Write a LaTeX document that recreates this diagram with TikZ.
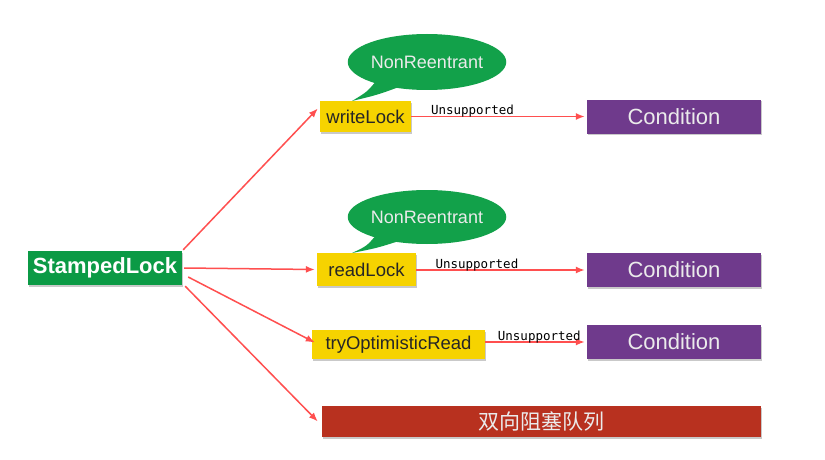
\documentclass[tikz,border=0pt]{standalone}
\usepackage{fontspec}
\setmainfont{Liberation Sans}
\newfontfamily\monofnt{DejaVu Sans Mono}
\newfontfamily\cjk{Noto Sans CJK SC}
\usetikzlibrary{arrows.meta,shapes.geometric,shadows,calc}
\definecolor{slgreen}{HTML}{0B9A45}
\definecolor{bubgreen}{HTML}{12A14A}
\definecolor{lockyellow}{HTML}{F6D300}
\definecolor{condpurple}{HTML}{6F3A8C}
\definecolor{queuered}{HTML}{B8311F}
\definecolor{arrowred}{HTML}{FF4F4F}
\tikzset{
  boxshadow/.style={drop shadow={shadow xshift=1.2pt,shadow yshift=-1.5pt,opacity=0.35,fill=black!60}},
  slbox/.style={fill=slgreen,text=white,font=\fontsize{22}{24}\selectfont\bfseries,minimum width=154pt,minimum height=34pt,inner sep=0pt,boxshadow},
  lockbox/.style={fill=lockyellow,text=black!85,font=\fontsize{18.5}{20}\selectfont,minimum height=31pt,inner sep=0pt,boxshadow},
  condbox/.style={fill=condpurple,text=white!92!black,font=\fontsize{22}{24}\selectfont,minimum width=174pt,minimum height=34pt,inner sep=0pt,boxshadow},
  queuebox/.style={fill=queuered,text=white!92!black,font=\cjk\fontsize{21}{23}\selectfont,minimum width=439pt,minimum height=31pt,inner sep=0pt,boxshadow},
  bubble/.style={ellipse,fill=bubgreen,text=white!92!black,font=\fontsize{18}{20}\selectfont,minimum width=154pt,minimum height=56pt,inner sep=0pt},
  conn/.style={draw=arrowred,line width=1.5pt,-{Latex[length=9pt,width=7pt]}},
  unsup/.style={font=\monofnt\fontsize{12.5}{14}\selectfont,text=black,inner sep=0pt,anchor=south west}
}
\begin{document}
\begin{tikzpicture}[x=1pt,y=-1pt]
\useasboundingbox[fill=white] (0,0) rectangle (825,460);
% nodes
\node[slbox] (sl) at (105,268) {StampedLock};
\node[lockbox,minimum width=91pt] (wl) at (365.5,116.5) {writeLock};
\node[lockbox,minimum width=99pt,minimum height=33pt] (rl) at (366.5,269.5) {readLock};
\node[lockbox,minimum width=173pt,minimum height=29pt] (to) at (398.5,344.5) {tryOptimisticRead};
\node[condbox] (c1) at (674,116.5) {Condition};
\node[condbox] (c2) at (674,270) {Condition};
\node[condbox] (c3) at (674,342) {Condition};
\node[queuebox] (q) at (541.5,421.5) {双向阻塞队列};
% bubbles
\node[bubble] (b1) at (427,62) {NonReentrant};
\fill[bubgreen] ($(b1)+(-50,18)$) .. controls ($(b1)+(-60,30)$) .. ($(b1)+(-75,39)$) .. controls ($(b1)+(-50,33)$) .. ($(b1)+(-28,25)$) -- cycle;
\node[bubble,minimum height=54pt] (b2) at (427,217) {NonReentrant};
\fill[bubgreen] ($(b2)+(-50,17)$) .. controls ($(b2)+(-60,29)$) .. ($(b2)+(-75,36)$) .. controls ($(b2)+(-50,31)$) .. ($(b2)+(-28,24)$) -- cycle;
% connectors from StampedLock
\draw[conn] ([xshift=1pt,yshift=1pt]sl.north east) -- ([xshift=-2pt,yshift=8pt]wl.west);
\draw[conn] ([xshift=2pt]sl.east) -- ([xshift=-2pt]rl.west);
\draw[conn] ([xshift=6pt,yshift=-9pt]sl.east) -- ([xshift=3pt,yshift=2pt]to.west);
\draw[conn] ([xshift=3pt,yshift=-1pt]sl.south east) -- ([xshift=-4pt]q.west);
% unsupported connectors
\draw[conn] (wl.east) -- node[unsup,pos=0.11,yshift=-1.5pt]{Unsupported} ([xshift=-2pt]c1.west);
\draw[conn] (rl.east |- c2.west) -- node[unsup,pos=0.11,yshift=-1.5pt]{Unsupported} ([xshift=-2pt]c2.west);
\draw[conn] (to.east |- c3.west) -- node[unsup,pos=0.12,yshift=-1.5pt]{Unsupported} ([xshift=-2pt]c3.west);
\end{tikzpicture}
\end{document}
